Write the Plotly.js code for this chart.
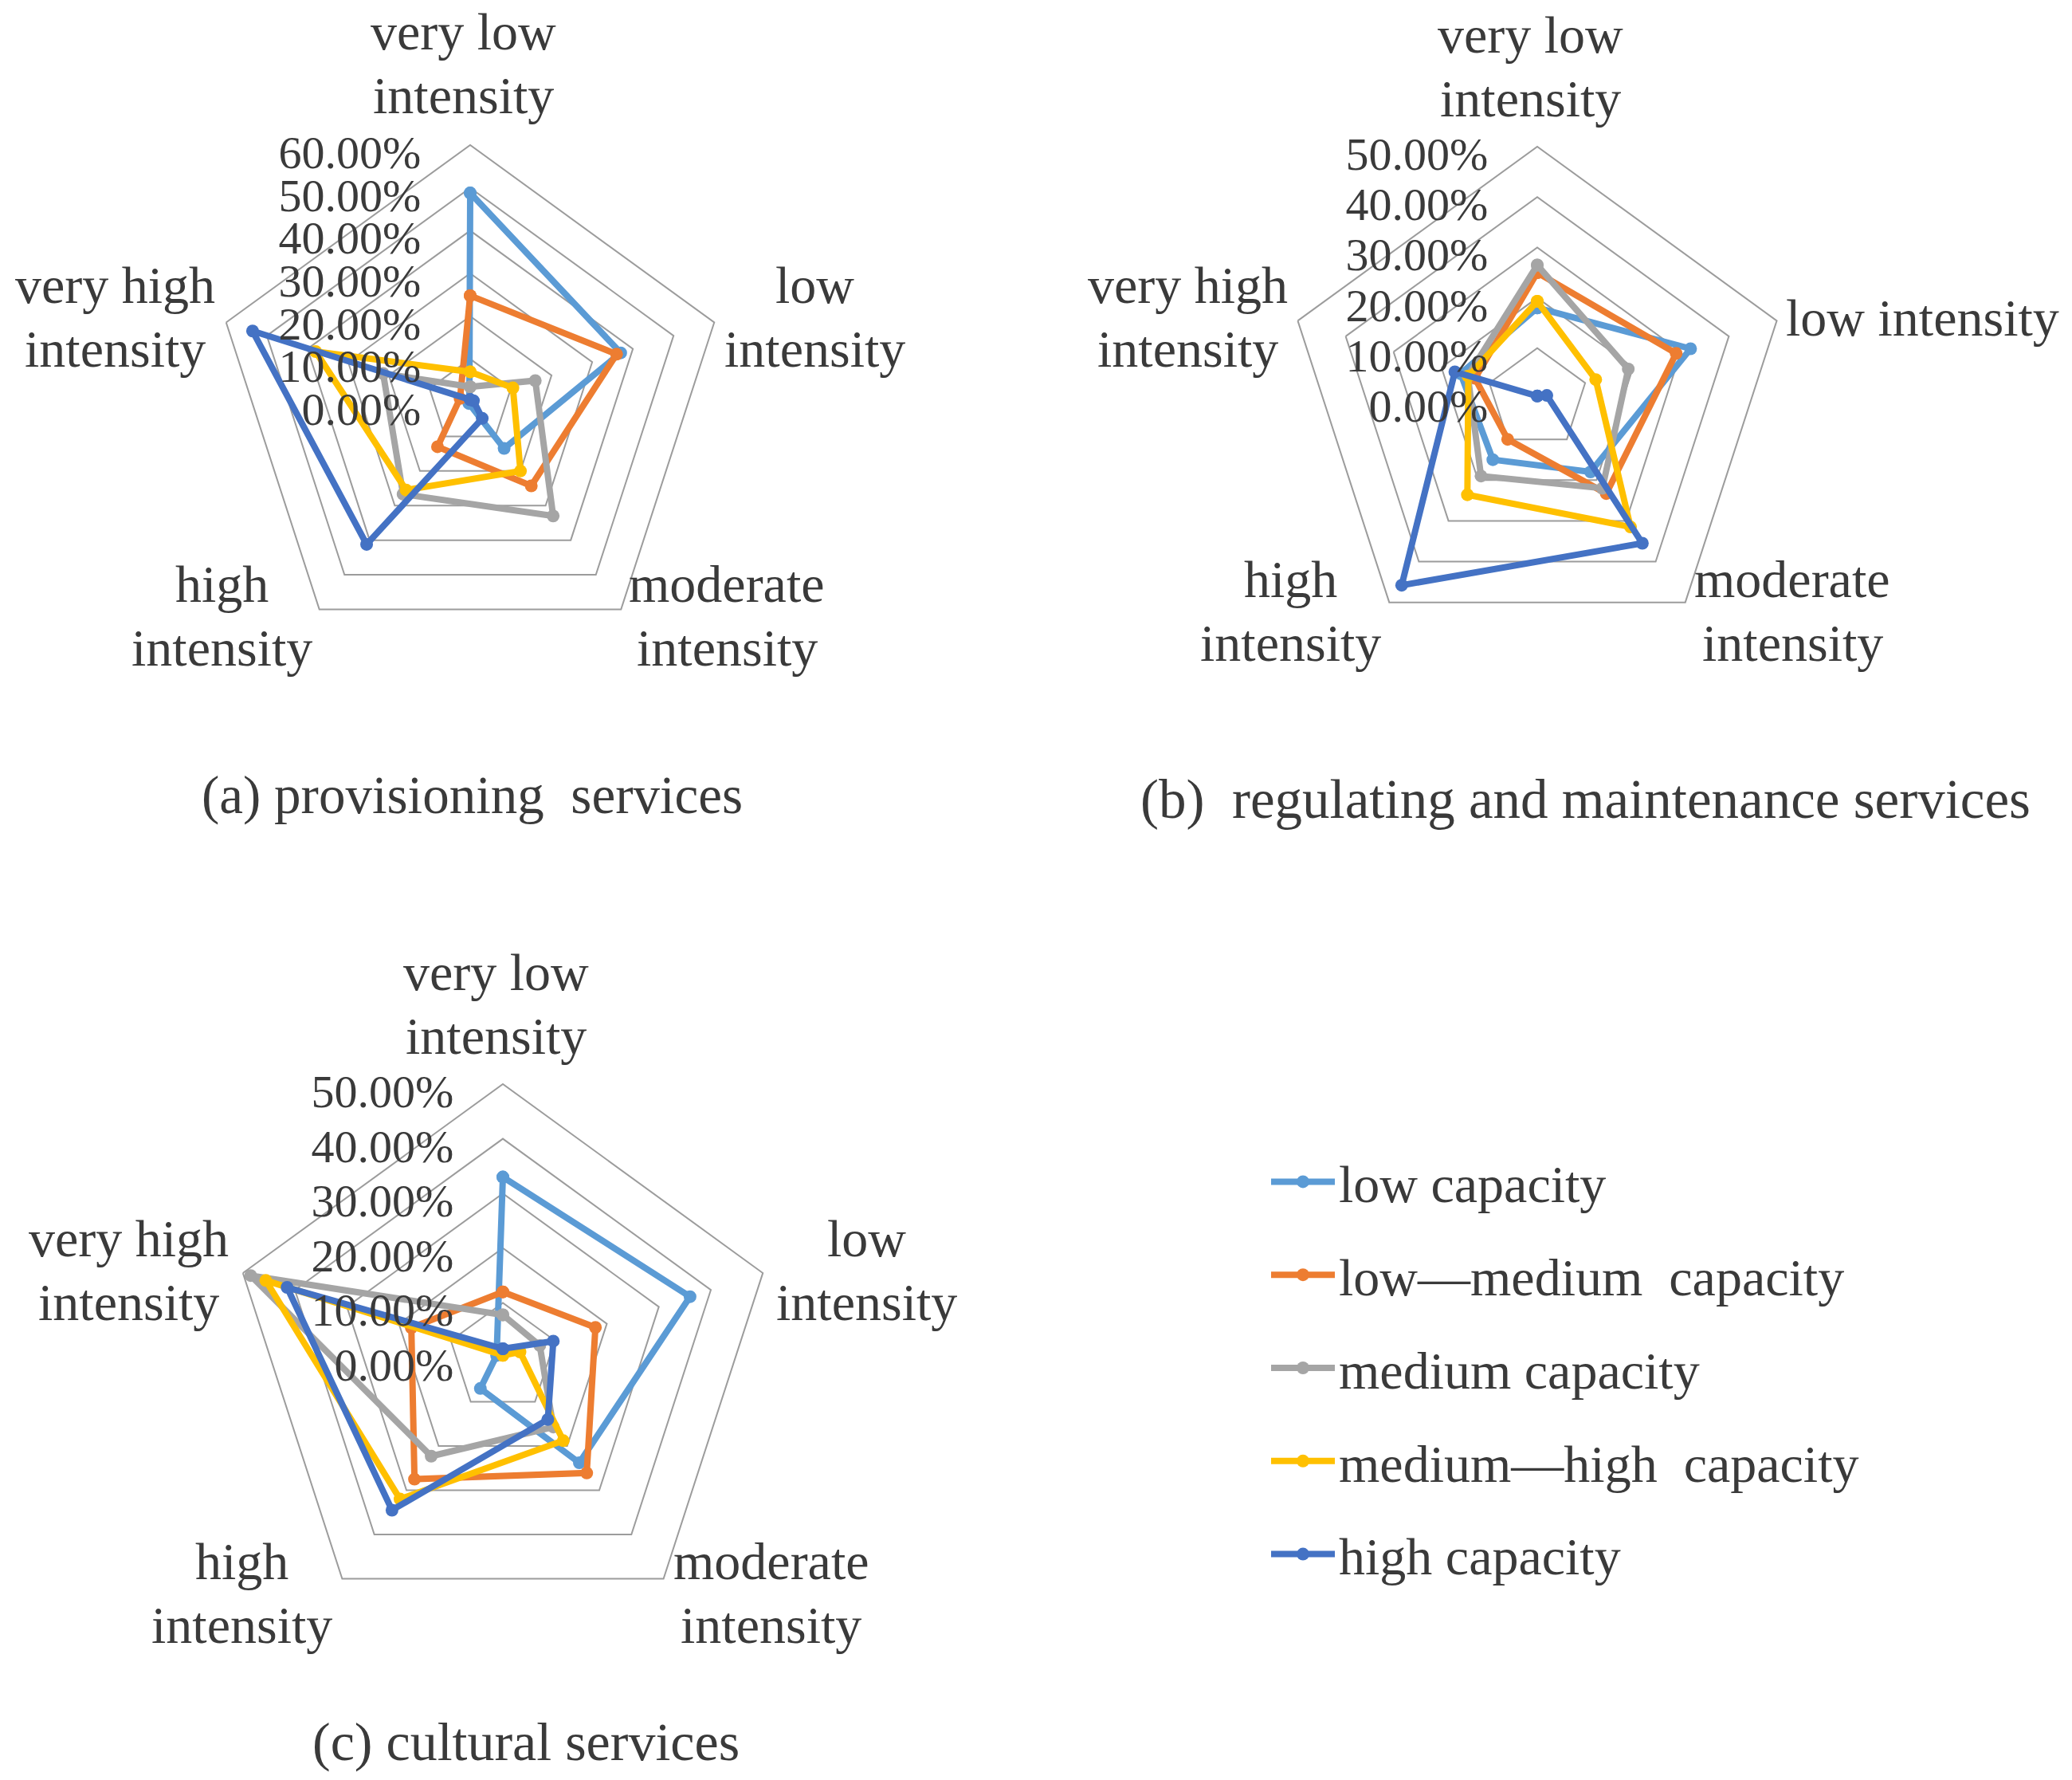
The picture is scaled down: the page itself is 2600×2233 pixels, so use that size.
<!DOCTYPE html>
<html><head><meta charset="utf-8">
<script src="https://cdn.plot.ly/plotly-3.0.1.min.js"></script>
<style>html,body{margin:0;padding:0;background:#fff;}#chart{width:2600px;height:2233px;}</style>
</head><body><div id="chart"></div>
<script>
// ---- data (percent) ----
const categories = ['very low intensity', 'low intensity', 'moderate intensity', 'high intensity', 'very high intensity'];
const tickLabelsA = ['very low<br>intensity', 'low<br>intensity', 'moderate<br>intensity', 'high<br>intensity', 'very high<br>intensity'];
const tickLabelsB = ['very low<br>intensity', 'low intensity', 'moderate<br>intensity', 'high<br>intensity', 'very high<br>intensity'];
const tickLabelsC = ['very low<br>intensity', 'low<br>intensity', 'moderate<br>intensity', 'high<br>intensity', 'very high<br>intensity'];
const seriesNames = ['low capacity', 'low\u2014medium\u00a0 capacity', 'medium capacity', 'medium\u2014high\u00a0 capacity', 'high capacity'];
const seriesColors = ['#5B9BD5', '#ED7D31', '#A5A5A5', '#FFC000', '#4472C4'];
const panelTitles = ['(a) provisioning\u00a0 services', '(b)\u00a0 regulating and maintenance services', '(c) cultural services'];

// (a) provisioning services
const provLow     = [48.8, 37.0, 13.5, 0.5, 0.2];
const provLowMed  = [24.8, 36.0, 24.3, 13.0, 2.5];
const provMed     = [3.5, 16.0, 33.0, 26.7, 21.4];
const provMedHigh = [7.0, 10.5, 20.0, 25.5, 38.0];
const provHigh    = [0.5, 0.8, 4.8, 41.2, 53.5];
// (b) regulating and maintenance services
const regLow      = [18.0, 32.0, 18.0, 15.0, 16.0];
const regLowMed   = [25.0, 29.0, 23.3, 10.0, 13.0];
const regMed      = [26.5, 19.0, 22.0, 19.0, 14.5];
const regMedHigh  = [19.3, 12.2, 31.5, 23.6, 14.4];
const regHigh     = [0.5, 2.0, 35.5, 45.8, 17.2];
// (c) cultural services
const culLow      = [33.0, 36.0, 23.8, 7.0, 1.2];
const culLowMed   = [12.0, 17.8, 26.1, 27.5, 17.6];
const culMed      = [7.8, 7.1, 15.7, 22.3, 48.5];
const culMedHigh  = [0.4, 3.3, 18.8, 32.0, 45.6];
const culHigh     = [1.6, 9.7, 14.0, 34.5, 41.5];

const panels = [
  {id: 'polar',  series: [provLow, provLowMed, provMed, provMedHigh, provHigh], rmax: 60, labels: tickLabelsA, cx: 590, cy: 504, R: 322,
   labelPos: [[581, 80], [1022, 397], [912, 773], [278, 773], [144, 397]], titlePos: [592, 997], titleSize: 67},
  {id: 'polar2', series: [regLow, regLowMed, regMed, regMedHigh, regHigh], rmax: 50, labels: tickLabelsB, cx: 1929, cy: 500, R: 316,
   labelPos: [[1920, 84], [2412, 398], [2249, 766], [1619, 766], [1490, 397]], titlePos: [1990, 1003], titleSize: 69},
  {id: 'polar3', series: [culLow, culLowMed, culMed, culMedHigh, culHigh], rmax: 50, labels: tickLabelsC, cx: 631, cy: 1703, R: 343,
   labelPos: [[622, 1260], [1087, 1593], [968, 1998], [303, 1998], [161, 1593]], titlePos: [660, 2185], titleSize: 68}
];

const W = 2600, H = 2233;
const FONT = 'Liberation Serif, Times New Roman, serif';
const TXT = '#3a3a3a';
const GRID = '#9c9c9c';
const LINE_GAP = 80;

const traces = [];
panels.forEach((p, pi) => {
  p.series.forEach((vals, si) => {
    traces.push({
      type: 'scatterpolar',
      subplot: p.id,
      mode: 'lines+markers',
      name: seriesNames[si],
      legendgroup: 'g' + si,
      showlegend: pi === 0,
      r: vals.concat([vals[0]]),
      theta: categories.concat([categories[0]]),
      line: {color: seriesColors[si], width: 8},
      marker: {color: seriesColors[si], size: 16},
      hoverinfo: 'name+r+theta'
    });
  });
});

const annotations = [];
panels.forEach((p, pi) => {
  annotations.push({text: panelTitles[pi], x: p.titlePos[0] / W, y: 1 - p.titlePos[1] / H,
    xref: 'paper', yref: 'paper', xanchor: 'center', yanchor: 'middle', showarrow: false,
    font: {family: FONT, size: p.titleSize, color: TXT}});
  p.labels.forEach((lab, k) => {
    const lines = lab.split('<br>');
    lines.forEach((ln, li) => {
      const yy = p.labelPos[k][1] + (li - (lines.length - 1) / 2) * LINE_GAP;
      annotations.push({text: ln, x: p.labelPos[k][0] / W, y: 1 - yy / H,
        xref: 'paper', yref: 'paper', xanchor: 'center', yanchor: 'middle', showarrow: false,
        font: {family: FONT, size: 66, color: TXT}});
    });
  });
});

const layout = {
  width: W, height: H,
  margin: {l: 0, r: 0, t: 0, b: 0},
  paper_bgcolor: '#fff',
  font: {family: FONT, color: TXT, size: 66},
  showlegend: true,
  legend: {
    x: 1590 / W, y: 1 - 1433 / H, xanchor: 'left', yanchor: 'top',
    traceorder: 'grouped', tracegroupgap: 28,
    font: {family: FONT, size: 66, color: TXT},
    bgcolor: 'rgba(0,0,0,0)', itemwidth: 80
  },
  annotations: annotations
};

panels.forEach(p => {
  layout[p.id] = {
    domain: {x: [(p.cx - p.R) / W, (p.cx + p.R) / W], y: [1 - (p.cy + p.R) / H, 1 - (p.cy - p.R) / H]},
    gridshape: 'linear',
    bgcolor: 'rgba(0,0,0,0)',
    radialaxis: {
      range: [0, p.rmax], tick0: 0, dtick: 10, angle: 90, side: 'counterclockwise',
      showline: false, gridcolor: GRID, gridwidth: 2,
      ticks: 'outside', ticklen: 9, tickcolor: 'rgba(0,0,0,0)',
      ticksuffix: '%', tickformat: '.2f',
      tickfont: {family: FONT, size: 58, color: TXT}
    },
    angularaxis: {
      type: 'category', categoryorder: 'array', categoryarray: categories,
      direction: 'clockwise', rotation: 90,
      showgrid: false, showline: true, linecolor: GRID, linewidth: 2,
      ticks: '', showticklabels: false
    }
  };
});

Plotly.newPlot('chart', traces, layout, {displayModeBar: false, staticPlot: true});
</script>
</body></html>
